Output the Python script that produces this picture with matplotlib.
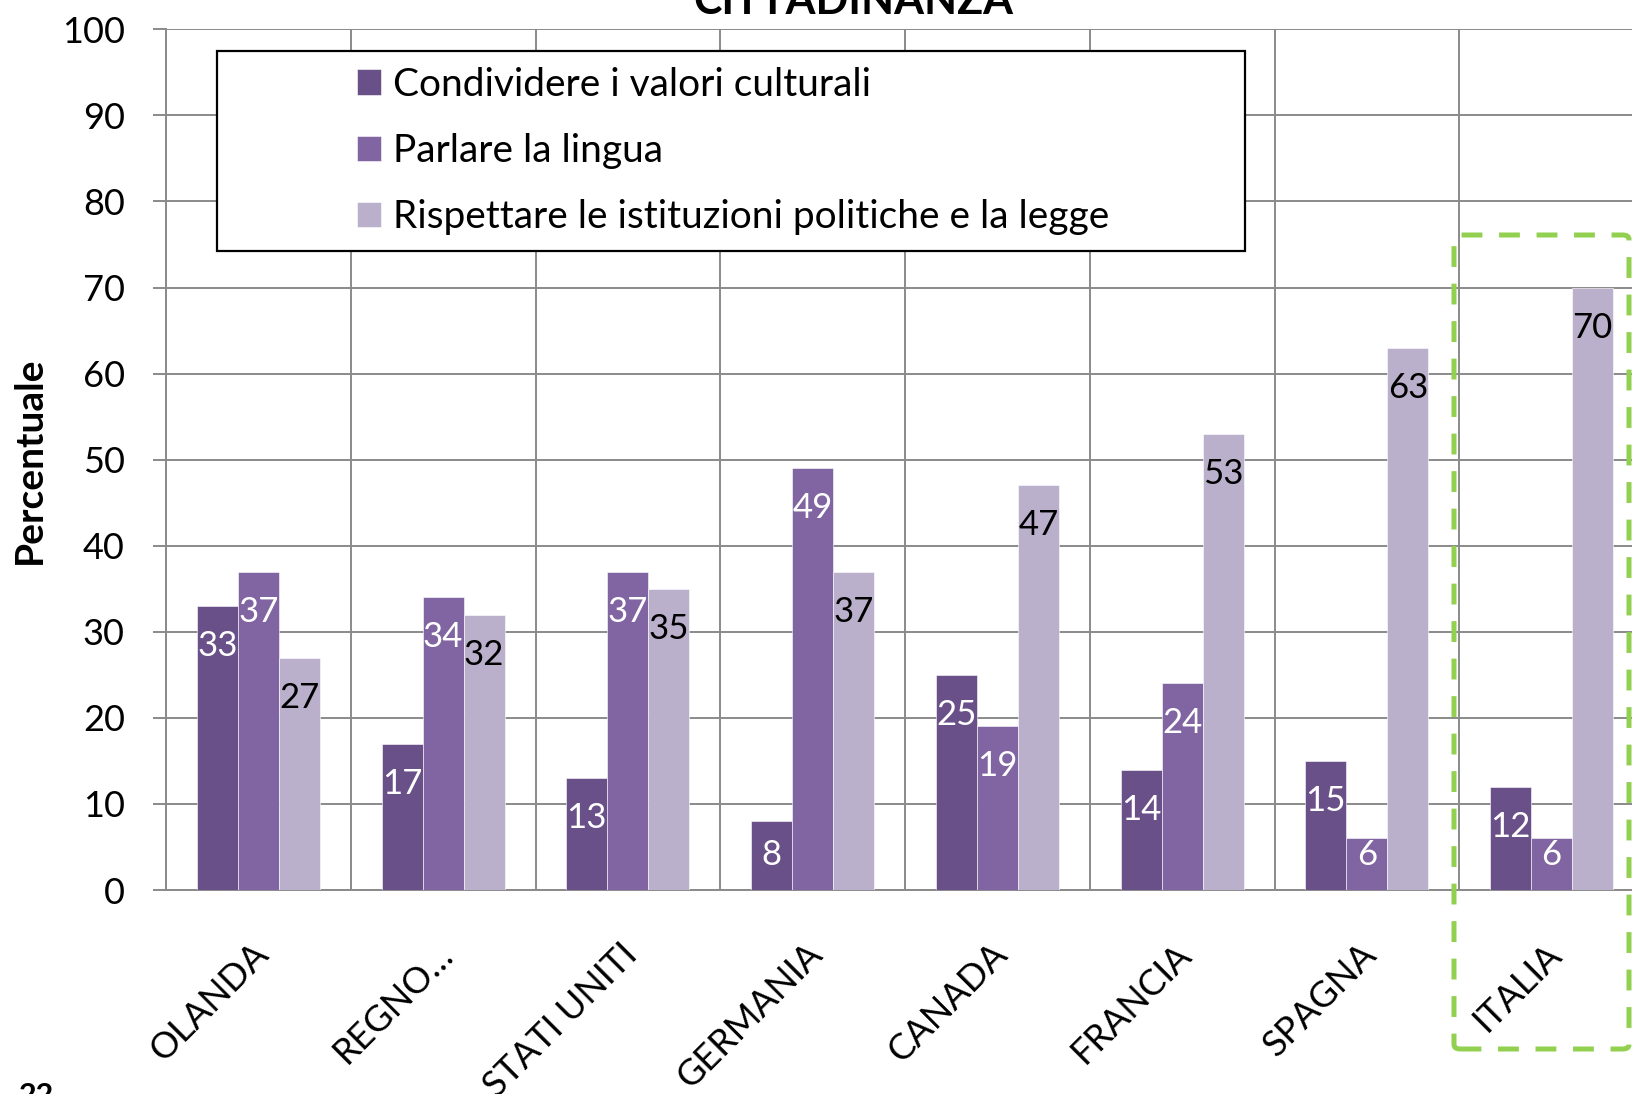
import numpy as np
import matplotlib.pyplot as plt
from matplotlib.patches import Rectangle, FancyBboxPatch

plt.rcParams['font.family'] = ['Lato', 'DejaVu Sans']
plt.rcParams['lines.scale_dashes'] = False

paesi = ['OLANDA', 'REGNO…', 'STATI UNITI', 'GERMANIA', 'CANADA', 'FRANCIA', 'SPAGNA', 'ITALIA']
valori_culturali = [33, 17, 13, 8, 25, 14, 15, 12]
lingua = [37, 34, 37, 49, 19, 24, 6, 6]
istituzioni = [27, 32, 35, 37, 47, 53, 63, 70]

serie = ['Condividere i valori culturali', 'Parlare la lingua',
         'Rispettare le istituzioni politiche e la legge']
colori = ['#6a5089', '#8165a3', '#bab0cb']
colori_etichette = ['white', 'white', 'black']

W, H = 1632, 1094
fig = plt.figure(figsize=(W / 100, H / 100), dpi=100)
ax = fig.add_axes([166 / W, (H - 890) / H, (1644 - 166) / W, (890 - 29.3) / H])

x = np.arange(len(paesi))
larg = 0.222
grigio = '#8a8a8a'

for i, (vals, col, lab, ctxt) in enumerate(zip([valori_culturali, lingua, istituzioni],
                                                colori, serie, colori_etichette)):
    pos = x + (i - 1) * larg
    ax.bar(pos, vals, width=larg, color=col, label=lab, edgecolor='white', linewidth=0.4, zorder=3)
    for px, v in zip(pos, vals):
        # etichetta dentro la cima della barra (come Excel)
        ax.text(px, max(v - 4.65, 4.05), str(v), ha='center', va='center',
                fontsize=25, color=ctxt, zorder=4)

ax.set_ylim(0, 100)
ax.set_xlim(-0.5, len(paesi) - 0.5)
ax.set_yticks(np.arange(0, 101, 10))
ax.set_xticks(x - 0.04)
ax.set_xticklabels(paesi, rotation=45, ha='right', va='top', rotation_mode='anchor', fontsize=26)
ax.set_xticks(np.arange(-0.5, len(paesi)), minor=True)
ax.tick_params(axis='y', labelsize=26, length=9.6, width=1.4, color=grigio, pad=20)
ax.tick_params(axis='x', which='both', length=0, pad=34)
ax.grid(axis='y', color=grigio, linewidth=1.4, zorder=0)
ax.grid(axis='x', which='minor', color=grigio, linewidth=1.4, zorder=0)
ax.set_axisbelow(True)
for s in ['top', 'right']:
    ax.spines[s].set_visible(False)
for s in ['left', 'bottom']:
    ax.spines[s].set_color(grigio)
    ax.spines[s].set_linewidth(1.4)

ax.set_ylabel('Percentuale', fontsize=28, fontweight='bold')
ax.yaxis.set_label_coords(47 / W, 1 - 460 / H, transform=fig.transFigure)

# titolo tagliato in alto
fig.text(853 / W, 1 - 14 / H, 'CITTADINANZA', ha='center', va='baseline',
         fontsize=31, fontweight='bold')
# numero pagina tagliato in basso
fig.text(19 / W, 1 - 1082 / H, '22', ha='left', va='top', fontsize=22, fontweight='bold')

# cornice della legenda
fig.add_artist(Rectangle((217 / W, 1 - 251 / H), (1245 - 217) / W, 200 / H,
                         transform=fig.transFigure, facecolor='white',
                         edgecolor='black', linewidth=1.6, zorder=5))
leg = fig.legend(loc='center', bbox_to_anchor=(733 / W, 1 - 151 / H), frameon=False,
                 fontsize=28, handlelength=0.62, handleheight=0.62, handletextpad=0.3,
                 labelspacing=0.78)
leg.set_zorder(6)

# riquadro tratteggiato verde su ITALIA
fig.add_artist(FancyBboxPatch((1454 / W, 1 - 1049 / H), (1629 - 1454) / W, (1049 - 235) / H,
                              boxstyle='round,pad=0,rounding_size=0.004',
                              transform=fig.transFigure, facecolor='none',
                              edgecolor='#92d050', linewidth=3.6,
                              linestyle=(0, (15, 12)), zorder=7))

fig.savefig('out.png', dpi=100)
